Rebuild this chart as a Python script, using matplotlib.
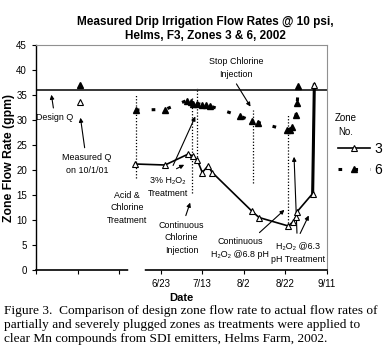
import matplotlib
matplotlib.use('Agg')
import matplotlib.pyplot as plt

# x values are day of year 2002 (6/23 = 174, 9/11 = 254)
xticks = [114, 134, 154, 174, 194, 214, 234, 254]
xtick_labels = ['', '', '', '6/23', '7/13', '8/2', '8/22', '9/11']

design_q = 36.0
measured_day = 135          # 10/1/01 plotted on the left part of the axis
measured_z3 = 33.7
measured_z6 = 37.0

z3_day = [161.6, 176.1, 187.3, 189.4, 191.6, 194.0, 196.7, 198.8,
          217.8, 221.3, 235.4, 237.8, 239.1, 239.7, 247.1, 247.9]
z3_flow = [21.2, 21.0, 23.2, 22.8, 22.0, 19.5, 20.8, 19.5,
           11.8, 10.5, 8.8, 9.7, 10.7, 11.7, 15.3, 37.0]

z6_day = [162.0, 176.1, 186.5, 188.6, 189.7, 191.6, 193.7, 195.8, 197.7,
          212.1, 217.8, 221.0, 234.6, 236.2, 237.0, 239.1, 239.7, 240.2]
z6_flow = [32.0, 32.1, 33.9, 33.7, 33.3, 33.3, 33.1, 33.0, 32.8,
           30.8, 29.8, 29.5, 28.0, 28.1, 28.7, 31.0, 33.5, 36.8]

# treatment dates (dotted lines): day, bottom, top
treat_day = [162.0, 189.0, 191.6, 218.5, 235.4]
treat_lo = [18.4, 15.4, 22.0, 17.4, 9.4]
treat_hi = [35.0, 34.7, 36.4, 32.0, 31.0]

sans = ['Liberation Sans', 'DejaVu Sans']
plt.rcParams['font.family'] = sans

fig = plt.figure(figsize=(3.87, 3.56), dpi=100)
ax = fig.add_axes([36/387, 86/356, 291/387, 225/356])

ax.axhline(design_q, color='black', lw=1.1, zorder=2)
ax.vlines(treat_day, treat_lo, treat_hi, colors='black', linestyles=(0, (1, 1.5)), lw=0.9)

ax.plot(z3_day, z3_flow, color='black', lw=1.2, marker='^', ms=5,
        mfc='white', mec='black', mew=0.8, label='3', zorder=4)
ax.plot(z3_day[-2:], z3_flow[-2:], color='black', lw=2.2, zorder=3)
ax.plot(z6_day, z6_flow, color='black', lw=2.2, ls=(0, (1.2, 4)), marker='^', ms=4.5,
        mfc='black', mec='black', label='6', zorder=4)

ax.plot([measured_day], [measured_z3], ls='none', marker='^', ms=5, mfc='white', mec='black', mew=0.8)
ax.plot([measured_day], [measured_z6], ls='none', marker='^', ms=4.5, mfc='black', mec='black')

ax.set_xlim(114, 254)
ax.set_ylim(0, 45)
ax.set_yticks(range(0, 46, 5))
ax.set_xticks(xticks)
ax.set_xticklabels(xtick_labels)
ax.tick_params(labelsize=7, length=3, width=0.8)
for s in ['top', 'right']:
    ax.spines[s].set_color('#909090')
ax.spines['left'].set_linewidth(1.0)
ax.spines['bottom'].set_linewidth(1.2)
# break in the date axis
ax.plot([159.7, 165], [0, 0], color='white', lw=4, clip_on=False, zorder=6)

fs = 6.4
ap = dict(arrowstyle='-|>', color='black', lw=0.8, mutation_scale=6)
ax.annotate('Design Q', xy=(121.2, 35.6), xytext=(123.1, 30.4), ha='center', va='center',
            fontsize=fs, arrowprops=ap)
ax.annotate('Measured Q\non 10/1/01', xy=(135.2, 31.0), xytext=(138.5, 21.2), ha='center',
            va='center', fontsize=fs, linespacing=1.5, arrowprops=ap)
ax.text(157.8, 12.4, 'Acid &\nChlorine\nTreatment', ha='center', va='center', fontsize=fs,
        linespacing=1.5)
ax.text(177.6, 16.6, '3% H\u2082O\u2082\nTreatment', ha='center', va='center', fontsize=fs,
        linespacing=1.6)
ax.annotate('', xy=(191.2, 31.2), xytext=(179.4, 20.4), arrowprops=ap)
ax.annotate('', xy=(186.5, 21.3), xytext=(180.4, 20.0), arrowprops=ap)
ax.annotate('Continuous\nChlorine\nInjection', xy=(188.6, 14.0), xytext=(184.1, 6.4),
            ha='center', va='center', fontsize=fs, linespacing=1.5,
            arrowprops=dict(ap, relpos=(0.55, 1.0)))
ax.annotate('Stop Chlorine\nInjection', xy=(217.9, 32.2), xytext=(210.2, 40.4), ha='center',
            va='center', fontsize=fs, linespacing=1.5, arrowprops=dict(ap, relpos=(0.45, 0.0)))
ax.annotate('Continuous\nH\u2082O\u2082 @6.8 pH', xy=(234.5, 12.4), xytext=(212.1, 4.4),
            ha='center', va='center', fontsize=fs, linespacing=1.5,
            arrowprops=dict(ap, relpos=(0.75, 1.0)))
ax.text(240.0, 3.4, 'H\u2082O\u2082 @6.3\npH Treatment', ha='center', va='center', fontsize=fs,
        linespacing=1.5)
ax.annotate('', xy=(238.1, 23.2), xytext=(239.6, 6.8), arrowprops=ap)
ax.annotate('', xy=(245.8, 11.4), xytext=(240.5, 6.8), arrowprops=ap)

ax.set_xlabel('Date', fontsize=8, fontweight='bold', labelpad=3)
ax.set_ylabel('Zone Flow Rate (gpm)', fontsize=8.8, fontweight='bold')
ax.yaxis.set_label_coords(-21/291, 0.5)

fig.text(205/387, 1 - 29/356, 'Measured Drip Irrigation Flow Rates @ 10 psi,\nHelms, F3, Zones 3 & 6, 2002',
         ha='center', va='center', fontsize=8.5, fontweight='bold', linespacing=1.3)

# legend: title drawn separately so it sits left of the entries like the original
fig.text(346/387, 1 - 125/356, 'Zone\nNo.', ha='center', va='center', fontsize=7, linespacing=1.6)
leg = ax.legend(loc='upper left', bbox_to_anchor=(331/387, 1 - 135/356), bbox_transform=fig.transFigure,
                frameon=False, fontsize=10, handlelength=2.3, handletextpad=0.3,
                labelspacing=0.5, borderpad=0)

fig.text(4/387, 1 - 325/356,
         'Figure 3.  Comparison of design zone flow rate to actual flow rates of\n'
         'partially and severely plugged zones as treatments were applied to\n'
         'clear Mn compounds from SDI emitters, Helms Farm, 2002.',
         ha='left', va='center', fontsize=9.6, family=['Liberation Serif', 'DejaVu Serif'],
         linespacing=1.25)

fig.savefig('out.png', dpi=100)
